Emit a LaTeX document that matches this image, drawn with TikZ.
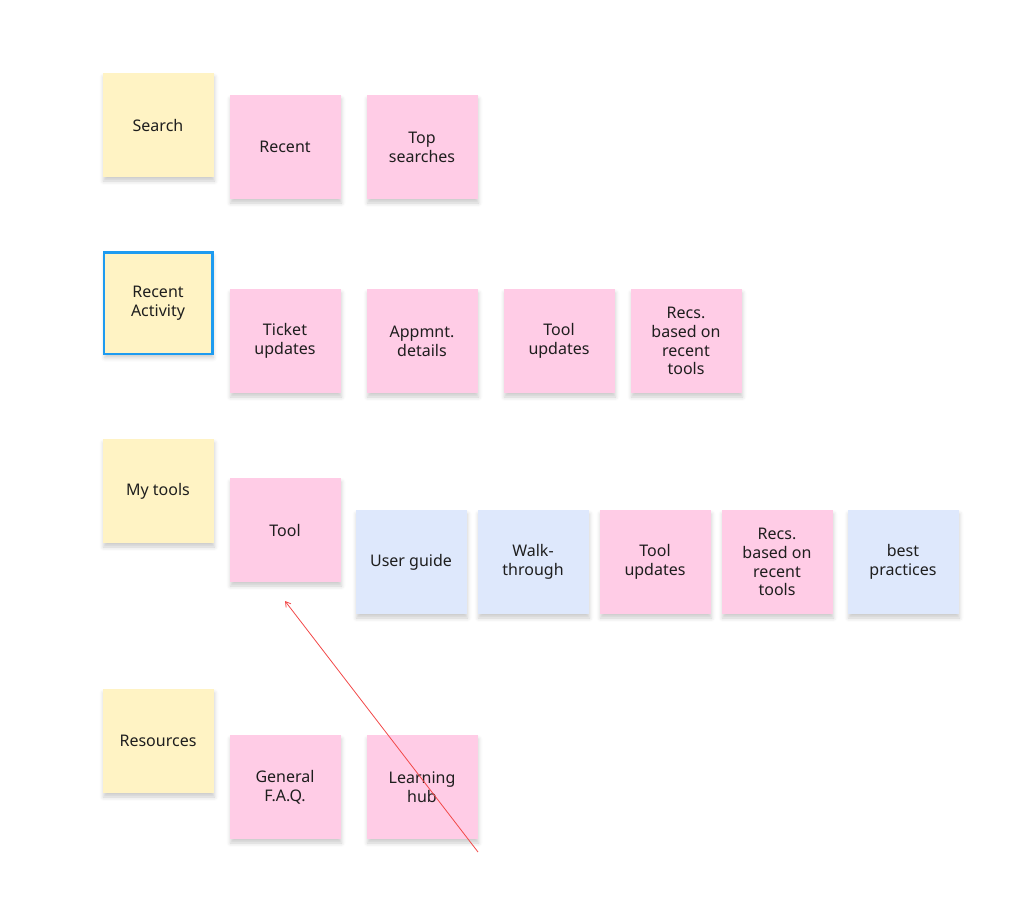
\documentclass[tikz,border=0pt]{standalone}
\usepackage{fontspec}
\setmainfont{Noto Sans}
\usetikzlibrary{shadows.blur,arrows.meta}
\definecolor{ylw}{HTML}{FFF3C4}
\definecolor{pnk}{HTML}{FFCCE6}
\definecolor{blu}{HTML}{DEE8FC}
\definecolor{sel}{HTML}{1E9BF0}
\definecolor{arr}{HTML}{F24848}
\definecolor{txt}{HTML}{1E1E1E}
\tikzset{
  note/.style={minimum width=111pt, minimum height=104pt, inner sep=2pt, align=center,
    font=\fontsize{16}{18.8}\selectfont, text=txt,
    blur shadow={shadow xshift=1pt, shadow yshift=-4pt, shadow blur radius=4pt, shadow opacity=20}},
  ynote/.style={note, fill=ylw},
  pnote/.style={note, fill=pnk},
  bnote/.style={note, fill=blu},
}
\begin{document}
\begin{tikzpicture}[x=1pt,y=-1pt]
\useasboundingbox (0,0) rectangle (1024,916);
\node[ynote] (search) at (158,125) {Search};
\node[pnote] (recent) at (285,147) {Recent};
\node[pnote] (top) at (422,147) {Top\\searches};

\node[ynote, draw=sel, line width=2.5pt, minimum width=108.5pt, minimum height=101.5pt] (ra) at (158,303) {Recent\\Activity};
\node[pnote] (ticket) at (285,341) {Ticket\\updates};
\node[pnote] (appt) at (422,341) {Appmnt.\\details};
\node[pnote] (tu1) at (559,341) {Tool\\updates};
\node[pnote] (recs1) at (686,341) {Recs.\\based on\\recent\\tools};

\node[ynote] (mytools) at (158,491) {My tools};
\node[pnote] (tool) at (285,530) {Tool};
\node[bnote] (ug) at (411,562) {User guide};
\node[bnote] (walk) at (533,562) {Walk-\\through};
\node[pnote] (tu2) at (655,562) {Tool\\updates};
\node[pnote] (recs2) at (777,562) {Recs.\\based on\\recent\\tools};
\node[bnote] (best) at (903,562) {best\\practices};

\node[ynote] (res) at (158,741) {Resources};
\node[pnote] (faq) at (285,787) {General\\F.A.Q.};
\node[pnote] (hub) at (422,787) {Learning\\hub};

\coordinate (tail) at (478,852);
\coordinate (tip) at (285,601);
\draw[arr, line width=0.8pt, -{Straight Barb[length=5pt,width=6pt]}] (tail) -- (tip);
\end{tikzpicture}
\end{document}
